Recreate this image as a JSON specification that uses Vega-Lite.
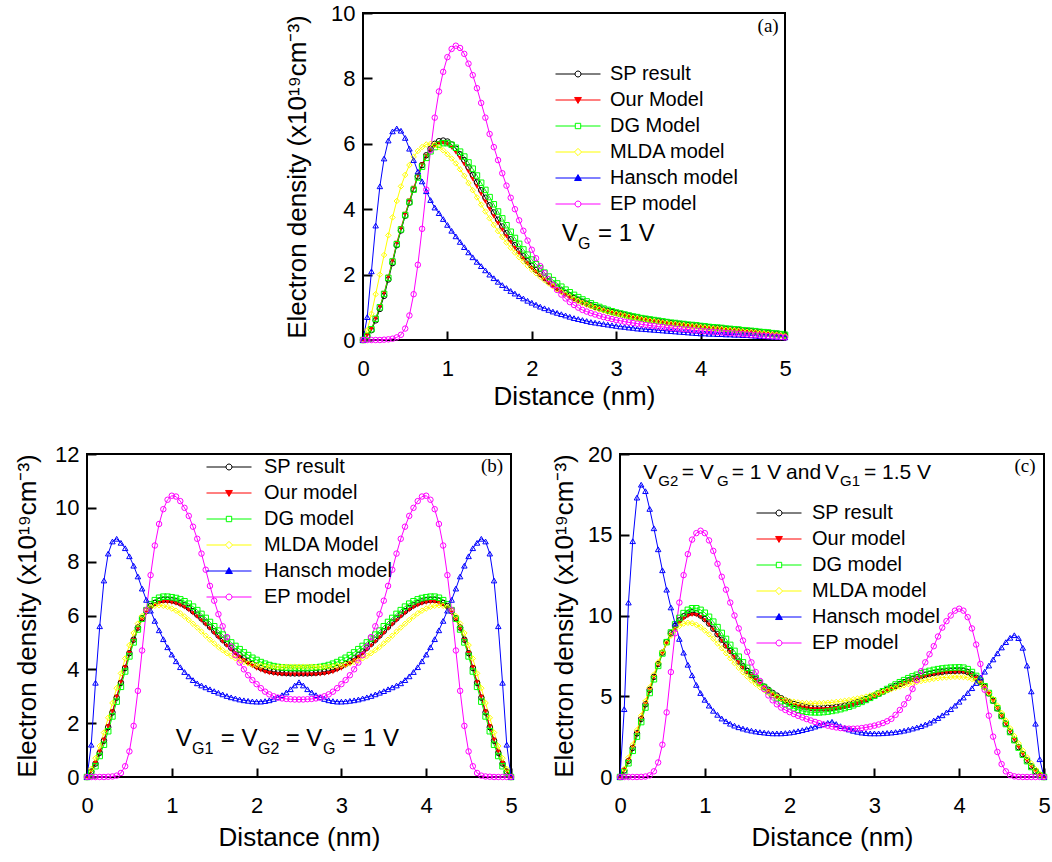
{
"$schema": "https://vega.github.io/schema/vega-lite/v6.json",
"background": "white",
"padding": {"left": 13, "top": 1, "right": 0, "bottom": 0},
"config": {
  "font": "Liberation Sans",
  "view": {"stroke": "black", "strokeWidth": 2},
  "axis": {"domain": false, "grid": false, "ticks": true, "tickSize": 9, "offset": -9, "tickWidth": 2, "tickColor": "black", "labelFont": "Liberation Sans", "labelFontSize": 22, "labelColor": "black", "labelFlush": false, "labelOverlap": false, "titleFont": "Liberation Sans", "titleFontSize": 26, "titleFontWeight": "normal", "titleColor": "black"},
  "axisX": {"labelPadding": 18, "titlePadding": 4},
  "axisY": {"labelPadding": 8, "titlePadding": 12},
  "legend": {"labelLimit": 0}
},
"datasets": {
"a": [
{"x":0,"SP":0,"Our":0,"DG":0,"MLDA":0,"Hansch":0,"EP":0},
{"x":0.05,"SP":0.12,"Our":0.14,"DG":0.13,"MLDA":0.3,"Hansch":0.7,"EP":0},
{"x":0.1,"SP":0.3,"Our":0.34,"DG":0.33,"MLDA":0.8,"Hansch":2.1,"EP":0},
{"x":0.15,"SP":0.6,"Our":0.66,"DG":0.65,"MLDA":1.4,"Hansch":3.5,"EP":0},
{"x":0.2,"SP":0.95,"Our":1.02,"DG":1.0,"MLDA":2.0,"Hansch":4.7,"EP":0},
{"x":0.25,"SP":1.35,"Our":1.43,"DG":1.41,"MLDA":2.6,"Hansch":5.55,"EP":0.01},
{"x":0.3,"SP":1.85,"Our":1.93,"DG":1.9,"MLDA":3.2,"Hansch":6.1,"EP":0.02},
{"x":0.35,"SP":2.35,"Our":2.43,"DG":2.4,"MLDA":3.75,"Hansch":6.38,"EP":0.04},
{"x":0.4,"SP":2.9,"Our":2.97,"DG":2.93,"MLDA":4.25,"Hansch":6.47,"EP":0.08},
{"x":0.45,"SP":3.35,"Our":3.42,"DG":3.38,"MLDA":4.7,"Hansch":6.4,"EP":0.16},
{"x":0.5,"SP":3.8,"Our":3.86,"DG":3.82,"MLDA":5.05,"Hansch":6.18,"EP":0.35},
{"x":0.55,"SP":4.2,"Our":4.26,"DG":4.22,"MLDA":5.35,"Hansch":5.85,"EP":0.75},
{"x":0.6,"SP":4.6,"Our":4.65,"DG":4.6,"MLDA":5.6,"Hansch":5.5,"EP":1.4},
{"x":0.65,"SP":5.0,"Our":5.03,"DG":4.97,"MLDA":5.78,"Hansch":5.15,"EP":2.3},
{"x":0.7,"SP":5.35,"Our":5.36,"DG":5.3,"MLDA":5.9,"Hansch":4.85,"EP":3.4},
{"x":0.75,"SP":5.65,"Our":5.63,"DG":5.57,"MLDA":5.98,"Hansch":4.55,"EP":4.6},
{"x":0.8,"SP":5.85,"Our":5.82,"DG":5.77,"MLDA":6.0,"Hansch":4.28,"EP":5.8},
{"x":0.85,"SP":6.0,"Our":5.95,"DG":5.9,"MLDA":5.97,"Hansch":4.05,"EP":6.8},
{"x":0.9,"SP":6.08,"Our":6.02,"DG":5.98,"MLDA":5.9,"Hansch":3.88,"EP":7.6},
{"x":0.95,"SP":6.1,"Our":6.03,"DG":6.02,"MLDA":5.8,"Hansch":3.7,"EP":8.2},
{"x":1.0,"SP":6.07,"Our":5.98,"DG":6.02,"MLDA":5.68,"Hansch":3.52,"EP":8.65},
{"x":1.05,"SP":5.98,"Our":5.88,"DG":5.97,"MLDA":5.55,"Hansch":3.34,"EP":8.9},
{"x":1.1,"SP":5.85,"Our":5.74,"DG":5.88,"MLDA":5.4,"Hansch":3.17,"EP":9.0},
{"x":1.15,"SP":5.68,"Our":5.56,"DG":5.76,"MLDA":5.22,"Hansch":3.0,"EP":8.93},
{"x":1.2,"SP":5.5,"Our":5.37,"DG":5.61,"MLDA":5.02,"Hansch":2.84,"EP":8.75},
{"x":1.25,"SP":5.28,"Our":5.15,"DG":5.43,"MLDA":4.8,"Hansch":2.68,"EP":8.45},
{"x":1.3,"SP":5.05,"Our":4.92,"DG":5.24,"MLDA":4.58,"Hansch":2.53,"EP":8.1},
{"x":1.35,"SP":4.82,"Our":4.69,"DG":5.03,"MLDA":4.36,"Hansch":2.39,"EP":7.7},
{"x":1.4,"SP":4.58,"Our":4.46,"DG":4.81,"MLDA":4.14,"Hansch":2.26,"EP":7.25},
{"x":1.45,"SP":4.35,"Our":4.23,"DG":4.59,"MLDA":3.93,"Hansch":2.13,"EP":6.8},
{"x":1.5,"SP":4.12,"Our":4.0,"DG":4.37,"MLDA":3.72,"Hansch":2.0,"EP":6.3},
{"x":1.55,"SP":3.9,"Our":3.78,"DG":4.15,"MLDA":3.52,"Hansch":1.89,"EP":5.9},
{"x":1.6,"SP":3.68,"Our":3.57,"DG":3.93,"MLDA":3.33,"Hansch":1.78,"EP":5.5},
{"x":1.65,"SP":3.47,"Our":3.37,"DG":3.72,"MLDA":3.15,"Hansch":1.68,"EP":5.1},
{"x":1.7,"SP":3.27,"Our":3.17,"DG":3.51,"MLDA":2.98,"Hansch":1.59,"EP":4.72},
{"x":1.75,"SP":3.08,"Our":2.99,"DG":3.31,"MLDA":2.82,"Hansch":1.5,"EP":4.35},
{"x":1.8,"SP":2.9,"Our":2.81,"DG":3.12,"MLDA":2.67,"Hansch":1.42,"EP":4.0},
{"x":1.85,"SP":2.73,"Our":2.65,"DG":2.94,"MLDA":2.53,"Hansch":1.34,"EP":3.66},
{"x":1.9,"SP":2.56,"Our":2.49,"DG":2.77,"MLDA":2.4,"Hansch":1.27,"EP":3.34},
{"x":1.95,"SP":2.41,"Our":2.34,"DG":2.61,"MLDA":2.27,"Hansch":1.2,"EP":3.04},
{"x":2.0,"SP":2.27,"Our":2.2,"DG":2.46,"MLDA":2.15,"Hansch":1.14,"EP":2.76},
{"x":2.05,"SP":2.14,"Our":2.08,"DG":2.32,"MLDA":2.04,"Hansch":1.08,"EP":2.5},
{"x":2.1,"SP":2.02,"Our":1.96,"DG":2.19,"MLDA":1.93,"Hansch":1.02,"EP":2.26},
{"x":2.15,"SP":1.9,"Our":1.85,"DG":2.06,"MLDA":1.83,"Hansch":0.97,"EP":2.05},
{"x":2.2,"SP":1.79,"Our":1.74,"DG":1.94,"MLDA":1.73,"Hansch":0.92,"EP":1.86},
{"x":2.25,"SP":1.69,"Our":1.64,"DG":1.83,"MLDA":1.64,"Hansch":0.87,"EP":1.68},
{"x":2.3,"SP":1.6,"Our":1.55,"DG":1.73,"MLDA":1.55,"Hansch":0.83,"EP":1.53},
{"x":2.35,"SP":1.51,"Our":1.47,"DG":1.63,"MLDA":1.47,"Hansch":0.79,"EP":1.39},
{"x":2.4,"SP":1.43,"Our":1.39,"DG":1.54,"MLDA":1.39,"Hansch":0.75,"EP":1.27},
{"x":2.45,"SP":1.36,"Our":1.32,"DG":1.46,"MLDA":1.32,"Hansch":0.71,"EP":1.16},
{"x":2.5,"SP":1.29,"Our":1.26,"DG":1.38,"MLDA":1.25,"Hansch":0.67,"EP":1.07},
{"x":2.55,"SP":1.23,"Our":1.2,"DG":1.31,"MLDA":1.19,"Hansch":0.64,"EP":0.99},
{"x":2.6,"SP":1.17,"Our":1.14,"DG":1.24,"MLDA":1.13,"Hansch":0.61,"EP":0.92},
{"x":2.65,"SP":1.11,"Our":1.09,"DG":1.18,"MLDA":1.08,"Hansch":0.58,"EP":0.87},
{"x":2.7,"SP":1.06,"Our":1.04,"DG":1.12,"MLDA":1.03,"Hansch":0.55,"EP":0.82},
{"x":2.75,"SP":1.01,"Our":0.99,"DG":1.06,"MLDA":0.98,"Hansch":0.53,"EP":0.78},
{"x":2.8,"SP":0.97,"Our":0.95,"DG":1.01,"MLDA":0.94,"Hansch":0.51,"EP":0.74},
{"x":2.85,"SP":0.93,"Our":0.91,"DG":0.96,"MLDA":0.9,"Hansch":0.49,"EP":0.7},
{"x":2.9,"SP":0.89,"Our":0.87,"DG":0.92,"MLDA":0.86,"Hansch":0.47,"EP":0.67},
{"x":2.95,"SP":0.86,"Our":0.84,"DG":0.88,"MLDA":0.83,"Hansch":0.45,"EP":0.64},
{"x":3.0,"SP":0.83,"Our":0.81,"DG":0.84,"MLDA":0.8,"Hansch":0.43,"EP":0.61},
{"x":3.05,"SP":0.8,"Our":0.78,"DG":0.81,"MLDA":0.77,"Hansch":0.41,"EP":0.59},
{"x":3.1,"SP":0.77,"Our":0.75,"DG":0.78,"MLDA":0.74,"Hansch":0.4,"EP":0.56},
{"x":3.15,"SP":0.74,"Our":0.72,"DG":0.75,"MLDA":0.71,"Hansch":0.38,"EP":0.54},
{"x":3.2,"SP":0.71,"Our":0.69,"DG":0.72,"MLDA":0.68,"Hansch":0.37,"EP":0.52},
{"x":3.25,"SP":0.69,"Our":0.67,"DG":0.7,"MLDA":0.66,"Hansch":0.35,"EP":0.5},
{"x":3.3,"SP":0.66,"Our":0.64,"DG":0.67,"MLDA":0.63,"Hansch":0.34,"EP":0.48},
{"x":3.35,"SP":0.64,"Our":0.62,"DG":0.65,"MLDA":0.61,"Hansch":0.33,"EP":0.46},
{"x":3.4,"SP":0.62,"Our":0.6,"DG":0.63,"MLDA":0.59,"Hansch":0.32,"EP":0.44},
{"x":3.45,"SP":0.6,"Our":0.58,"DG":0.61,"MLDA":0.57,"Hansch":0.31,"EP":0.43},
{"x":3.5,"SP":0.58,"Our":0.56,"DG":0.59,"MLDA":0.55,"Hansch":0.3,"EP":0.41},
{"x":3.55,"SP":0.56,"Our":0.54,"DG":0.57,"MLDA":0.53,"Hansch":0.29,"EP":0.4},
{"x":3.6,"SP":0.54,"Our":0.52,"DG":0.55,"MLDA":0.51,"Hansch":0.28,"EP":0.38},
{"x":3.65,"SP":0.52,"Our":0.5,"DG":0.53,"MLDA":0.49,"Hansch":0.27,"EP":0.37},
{"x":3.7,"SP":0.51,"Our":0.49,"DG":0.52,"MLDA":0.48,"Hansch":0.26,"EP":0.35},
{"x":3.75,"SP":0.49,"Our":0.47,"DG":0.5,"MLDA":0.46,"Hansch":0.25,"EP":0.34},
{"x":3.8,"SP":0.48,"Our":0.46,"DG":0.49,"MLDA":0.45,"Hansch":0.24,"EP":0.33},
{"x":3.85,"SP":0.46,"Our":0.44,"DG":0.47,"MLDA":0.43,"Hansch":0.23,"EP":0.32},
{"x":3.9,"SP":0.45,"Our":0.43,"DG":0.46,"MLDA":0.42,"Hansch":0.22,"EP":0.3},
{"x":3.95,"SP":0.44,"Our":0.42,"DG":0.45,"MLDA":0.41,"Hansch":0.21,"EP":0.29},
{"x":4.0,"SP":0.42,"Our":0.4,"DG":0.43,"MLDA":0.39,"Hansch":0.2,"EP":0.28},
{"x":4.05,"SP":0.41,"Our":0.39,"DG":0.42,"MLDA":0.38,"Hansch":0.2,"EP":0.27},
{"x":4.1,"SP":0.39,"Our":0.37,"DG":0.4,"MLDA":0.36,"Hansch":0.19,"EP":0.26},
{"x":4.15,"SP":0.38,"Our":0.36,"DG":0.39,"MLDA":0.35,"Hansch":0.19,"EP":0.25},
{"x":4.2,"SP":0.37,"Our":0.35,"DG":0.38,"MLDA":0.34,"Hansch":0.18,"EP":0.24},
{"x":4.25,"SP":0.36,"Our":0.34,"DG":0.37,"MLDA":0.33,"Hansch":0.18,"EP":0.23},
{"x":4.3,"SP":0.34,"Our":0.32,"DG":0.35,"MLDA":0.31,"Hansch":0.17,"EP":0.22},
{"x":4.35,"SP":0.33,"Our":0.31,"DG":0.34,"MLDA":0.3,"Hansch":0.17,"EP":0.21},
{"x":4.4,"SP":0.32,"Our":0.3,"DG":0.33,"MLDA":0.29,"Hansch":0.16,"EP":0.2},
{"x":4.45,"SP":0.31,"Our":0.29,"DG":0.32,"MLDA":0.28,"Hansch":0.16,"EP":0.19},
{"x":4.5,"SP":0.29,"Our":0.27,"DG":0.3,"MLDA":0.26,"Hansch":0.15,"EP":0.18},
{"x":4.55,"SP":0.28,"Our":0.26,"DG":0.29,"MLDA":0.25,"Hansch":0.15,"EP":0.17},
{"x":4.6,"SP":0.27,"Our":0.25,"DG":0.28,"MLDA":0.24,"Hansch":0.14,"EP":0.16},
{"x":4.65,"SP":0.26,"Our":0.24,"DG":0.27,"MLDA":0.23,"Hansch":0.13,"EP":0.15},
{"x":4.7,"SP":0.24,"Our":0.22,"DG":0.25,"MLDA":0.21,"Hansch":0.12,"EP":0.14},
{"x":4.75,"SP":0.23,"Our":0.21,"DG":0.24,"MLDA":0.2,"Hansch":0.12,"EP":0.13},
{"x":4.8,"SP":0.22,"Our":0.2,"DG":0.23,"MLDA":0.19,"Hansch":0.11,"EP":0.12},
{"x":4.85,"SP":0.2,"Our":0.18,"DG":0.21,"MLDA":0.17,"Hansch":0.1,"EP":0.11},
{"x":4.9,"SP":0.19,"Our":0.17,"DG":0.2,"MLDA":0.16,"Hansch":0.1,"EP":0.1},
{"x":4.95,"SP":0.17,"Our":0.15,"DG":0.18,"MLDA":0.14,"Hansch":0.09,"EP":0.09},
{"x":5.0,"SP":0.15,"Our":0.13,"DG":0.16,"MLDA":0.12,"Hansch":0.08,"EP":0.08}
],
"b": [
{"x":0,"SP":0,"Our":0,"DG":0,"MLDA":0,"Hansch":0,"EP":0},
{"x":0.05,"SP":0.2,"Our":0.22,"DG":0.15,"MLDA":0.3,"Hansch":1.2,"EP":0},
{"x":0.1,"SP":0.5,"Our":0.52,"DG":0.4,"MLDA":0.7,"Hansch":3.5,"EP":0},
{"x":0.15,"SP":0.9,"Our":0.93,"DG":0.78,"MLDA":1.15,"Hansch":5.6,"EP":0},
{"x":0.2,"SP":1.35,"Our":1.38,"DG":1.2,"MLDA":1.65,"Hansch":7.3,"EP":0},
{"x":0.25,"SP":1.85,"Our":1.88,"DG":1.7,"MLDA":2.2,"Hansch":8.3,"EP":0.01},
{"x":0.3,"SP":2.4,"Our":2.43,"DG":2.25,"MLDA":2.75,"Hansch":8.75,"EP":0.02},
{"x":0.35,"SP":2.95,"Our":2.98,"DG":2.8,"MLDA":3.3,"Hansch":8.85,"EP":0.05},
{"x":0.4,"SP":3.5,"Our":3.52,"DG":3.35,"MLDA":3.85,"Hansch":8.7,"EP":0.15},
{"x":0.45,"SP":4.05,"Our":4.07,"DG":3.92,"MLDA":4.4,"Hansch":8.5,"EP":0.4},
{"x":0.5,"SP":4.6,"Our":4.6,"DG":4.48,"MLDA":4.9,"Hansch":8.2,"EP":0.95},
{"x":0.55,"SP":5.1,"Our":5.08,"DG":5.0,"MLDA":5.35,"Hansch":7.85,"EP":1.9},
{"x":0.6,"SP":5.55,"Our":5.5,"DG":5.48,"MLDA":5.7,"Hansch":7.45,"EP":3.2},
{"x":0.65,"SP":5.9,"Our":5.85,"DG":5.88,"MLDA":5.98,"Hansch":7.0,"EP":4.7},
{"x":0.7,"SP":6.17,"Our":6.1,"DG":6.2,"MLDA":6.18,"Hansch":6.58,"EP":6.2},
{"x":0.75,"SP":6.35,"Our":6.28,"DG":6.42,"MLDA":6.3,"Hansch":6.18,"EP":7.5},
{"x":0.8,"SP":6.47,"Our":6.4,"DG":6.57,"MLDA":6.36,"Hansch":5.8,"EP":8.6},
{"x":0.85,"SP":6.55,"Our":6.47,"DG":6.66,"MLDA":6.38,"Hansch":5.45,"EP":9.4},
{"x":0.9,"SP":6.58,"Our":6.5,"DG":6.7,"MLDA":6.36,"Hansch":5.12,"EP":9.95},
{"x":0.95,"SP":6.58,"Our":6.5,"DG":6.7,"MLDA":6.32,"Hansch":4.82,"EP":10.3},
{"x":1.0,"SP":6.56,"Our":6.48,"DG":6.68,"MLDA":6.26,"Hansch":4.55,"EP":10.45},
{"x":1.05,"SP":6.52,"Our":6.44,"DG":6.65,"MLDA":6.18,"Hansch":4.3,"EP":10.42},
{"x":1.1,"SP":6.46,"Our":6.38,"DG":6.6,"MLDA":6.08,"Hansch":4.08,"EP":10.25},
{"x":1.15,"SP":6.38,"Our":6.3,"DG":6.53,"MLDA":5.96,"Hansch":3.9,"EP":10.0},
{"x":1.2,"SP":6.28,"Our":6.2,"DG":6.44,"MLDA":5.83,"Hansch":3.74,"EP":9.7},
{"x":1.25,"SP":6.16,"Our":6.08,"DG":6.33,"MLDA":5.69,"Hansch":3.6,"EP":9.3},
{"x":1.3,"SP":6.03,"Our":5.95,"DG":6.2,"MLDA":5.55,"Hansch":3.48,"EP":8.85},
{"x":1.35,"SP":5.89,"Our":5.81,"DG":6.06,"MLDA":5.4,"Hansch":3.4,"EP":8.3},
{"x":1.4,"SP":5.74,"Our":5.66,"DG":5.91,"MLDA":5.25,"Hansch":3.33,"EP":7.7},
{"x":1.45,"SP":5.58,"Our":5.5,"DG":5.76,"MLDA":5.1,"Hansch":3.26,"EP":7.1},
{"x":1.5,"SP":5.42,"Our":5.34,"DG":5.6,"MLDA":4.96,"Hansch":3.19,"EP":6.55},
{"x":1.55,"SP":5.26,"Our":5.18,"DG":5.44,"MLDA":4.83,"Hansch":3.13,"EP":6.05},
{"x":1.6,"SP":5.1,"Our":5.02,"DG":5.29,"MLDA":4.71,"Hansch":3.07,"EP":5.6},
{"x":1.65,"SP":4.95,"Our":4.87,"DG":5.14,"MLDA":4.6,"Hansch":3.01,"EP":5.2},
{"x":1.7,"SP":4.8,"Our":4.72,"DG":5.0,"MLDA":4.5,"Hansch":2.96,"EP":4.85},
{"x":1.75,"SP":4.66,"Our":4.58,"DG":4.87,"MLDA":4.41,"Hansch":2.92,"EP":4.53},
{"x":1.8,"SP":4.53,"Our":4.45,"DG":4.75,"MLDA":4.33,"Hansch":2.88,"EP":4.25},
{"x":1.85,"SP":4.41,"Our":4.33,"DG":4.63,"MLDA":4.27,"Hansch":2.85,"EP":4.0},
{"x":1.9,"SP":4.3,"Our":4.22,"DG":4.53,"MLDA":4.22,"Hansch":2.83,"EP":3.78},
{"x":1.95,"SP":4.2,"Our":4.12,"DG":4.43,"MLDA":4.18,"Hansch":2.81,"EP":3.6},
{"x":2.0,"SP":4.12,"Our":4.03,"DG":4.35,"MLDA":4.15,"Hansch":2.8,"EP":3.45},
{"x":2.05,"SP":4.05,"Our":3.96,"DG":4.27,"MLDA":4.13,"Hansch":2.8,"EP":3.3},
{"x":2.1,"SP":3.99,"Our":3.9,"DG":4.21,"MLDA":4.11,"Hansch":2.82,"EP":3.17},
{"x":2.15,"SP":3.94,"Our":3.86,"DG":4.16,"MLDA":4.1,"Hansch":2.85,"EP":3.07},
{"x":2.2,"SP":3.91,"Our":3.83,"DG":4.12,"MLDA":4.09,"Hansch":2.9,"EP":3.0},
{"x":2.25,"SP":3.89,"Our":3.81,"DG":4.09,"MLDA":4.09,"Hansch":2.96,"EP":2.95},
{"x":2.3,"SP":3.87,"Our":3.8,"DG":4.07,"MLDA":4.09,"Hansch":3.04,"EP":2.92},
{"x":2.35,"SP":3.86,"Our":3.8,"DG":4.06,"MLDA":4.1,"Hansch":3.14,"EP":2.9},
{"x":2.4,"SP":3.85,"Our":3.8,"DG":4.05,"MLDA":4.1,"Hansch":3.26,"EP":2.89},
{"x":2.45,"SP":3.85,"Our":3.8,"DG":4.05,"MLDA":4.1,"Hansch":3.4,"EP":2.88},
{"x":2.5,"SP":3.85,"Our":3.8,"DG":4.05,"MLDA":4.1,"Hansch":3.52,"EP":2.88},
{"x":2.55,"SP":3.85,"Our":3.8,"DG":4.05,"MLDA":4.1,"Hansch":3.4,"EP":2.88},
{"x":2.6,"SP":3.85,"Our":3.8,"DG":4.05,"MLDA":4.1,"Hansch":3.26,"EP":2.89},
{"x":2.65,"SP":3.86,"Our":3.8,"DG":4.06,"MLDA":4.1,"Hansch":3.14,"EP":2.9},
{"x":2.7,"SP":3.87,"Our":3.8,"DG":4.07,"MLDA":4.09,"Hansch":3.04,"EP":2.92},
{"x":2.75,"SP":3.89,"Our":3.81,"DG":4.09,"MLDA":4.09,"Hansch":2.96,"EP":2.95},
{"x":2.8,"SP":3.91,"Our":3.83,"DG":4.12,"MLDA":4.09,"Hansch":2.9,"EP":3.0},
{"x":2.85,"SP":3.94,"Our":3.86,"DG":4.16,"MLDA":4.1,"Hansch":2.85,"EP":3.07},
{"x":2.9,"SP":3.99,"Our":3.9,"DG":4.21,"MLDA":4.11,"Hansch":2.82,"EP":3.17},
{"x":2.95,"SP":4.05,"Our":3.96,"DG":4.27,"MLDA":4.13,"Hansch":2.8,"EP":3.3},
{"x":3.0,"SP":4.12,"Our":4.03,"DG":4.35,"MLDA":4.15,"Hansch":2.8,"EP":3.45},
{"x":3.05,"SP":4.2,"Our":4.12,"DG":4.43,"MLDA":4.18,"Hansch":2.81,"EP":3.6},
{"x":3.1,"SP":4.3,"Our":4.22,"DG":4.53,"MLDA":4.22,"Hansch":2.83,"EP":3.78},
{"x":3.15,"SP":4.41,"Our":4.33,"DG":4.63,"MLDA":4.27,"Hansch":2.85,"EP":4.0},
{"x":3.2,"SP":4.53,"Our":4.45,"DG":4.75,"MLDA":4.33,"Hansch":2.88,"EP":4.25},
{"x":3.25,"SP":4.66,"Our":4.58,"DG":4.87,"MLDA":4.41,"Hansch":2.92,"EP":4.53},
{"x":3.3,"SP":4.8,"Our":4.72,"DG":5.0,"MLDA":4.5,"Hansch":2.96,"EP":4.85},
{"x":3.35,"SP":4.95,"Our":4.87,"DG":5.14,"MLDA":4.6,"Hansch":3.01,"EP":5.2},
{"x":3.4,"SP":5.1,"Our":5.02,"DG":5.29,"MLDA":4.71,"Hansch":3.07,"EP":5.6},
{"x":3.45,"SP":5.26,"Our":5.18,"DG":5.44,"MLDA":4.83,"Hansch":3.13,"EP":6.05},
{"x":3.5,"SP":5.42,"Our":5.34,"DG":5.6,"MLDA":4.96,"Hansch":3.19,"EP":6.55},
{"x":3.55,"SP":5.58,"Our":5.5,"DG":5.76,"MLDA":5.1,"Hansch":3.26,"EP":7.1},
{"x":3.6,"SP":5.74,"Our":5.66,"DG":5.91,"MLDA":5.25,"Hansch":3.33,"EP":7.7},
{"x":3.65,"SP":5.89,"Our":5.81,"DG":6.06,"MLDA":5.4,"Hansch":3.4,"EP":8.3},
{"x":3.7,"SP":6.03,"Our":5.95,"DG":6.2,"MLDA":5.55,"Hansch":3.48,"EP":8.85},
{"x":3.75,"SP":6.16,"Our":6.08,"DG":6.33,"MLDA":5.69,"Hansch":3.6,"EP":9.3},
{"x":3.8,"SP":6.28,"Our":6.2,"DG":6.44,"MLDA":5.83,"Hansch":3.74,"EP":9.7},
{"x":3.85,"SP":6.38,"Our":6.3,"DG":6.53,"MLDA":5.96,"Hansch":3.9,"EP":10.0},
{"x":3.9,"SP":6.46,"Our":6.38,"DG":6.6,"MLDA":6.08,"Hansch":4.08,"EP":10.25},
{"x":3.95,"SP":6.52,"Our":6.44,"DG":6.65,"MLDA":6.18,"Hansch":4.3,"EP":10.42},
{"x":4.0,"SP":6.56,"Our":6.48,"DG":6.68,"MLDA":6.26,"Hansch":4.55,"EP":10.45},
{"x":4.05,"SP":6.58,"Our":6.5,"DG":6.7,"MLDA":6.32,"Hansch":4.82,"EP":10.3},
{"x":4.1,"SP":6.58,"Our":6.5,"DG":6.7,"MLDA":6.36,"Hansch":5.12,"EP":9.95},
{"x":4.15,"SP":6.55,"Our":6.47,"DG":6.66,"MLDA":6.38,"Hansch":5.45,"EP":9.4},
{"x":4.2,"SP":6.47,"Our":6.4,"DG":6.57,"MLDA":6.36,"Hansch":5.8,"EP":8.6},
{"x":4.25,"SP":6.35,"Our":6.28,"DG":6.42,"MLDA":6.3,"Hansch":6.18,"EP":7.5},
{"x":4.3,"SP":6.17,"Our":6.1,"DG":6.2,"MLDA":6.18,"Hansch":6.58,"EP":6.2},
{"x":4.35,"SP":5.9,"Our":5.85,"DG":5.88,"MLDA":5.98,"Hansch":7.0,"EP":4.7},
{"x":4.4,"SP":5.55,"Our":5.5,"DG":5.48,"MLDA":5.7,"Hansch":7.45,"EP":3.2},
{"x":4.45,"SP":5.1,"Our":5.08,"DG":5.0,"MLDA":5.35,"Hansch":7.85,"EP":1.9},
{"x":4.5,"SP":4.6,"Our":4.6,"DG":4.48,"MLDA":4.9,"Hansch":8.2,"EP":0.95},
{"x":4.55,"SP":4.05,"Our":4.07,"DG":3.92,"MLDA":4.4,"Hansch":8.5,"EP":0.4},
{"x":4.6,"SP":3.5,"Our":3.52,"DG":3.35,"MLDA":3.85,"Hansch":8.7,"EP":0.15},
{"x":4.65,"SP":2.95,"Our":2.98,"DG":2.8,"MLDA":3.3,"Hansch":8.85,"EP":0.05},
{"x":4.7,"SP":2.4,"Our":2.43,"DG":2.25,"MLDA":2.75,"Hansch":8.75,"EP":0.02},
{"x":4.75,"SP":1.85,"Our":1.88,"DG":1.7,"MLDA":2.2,"Hansch":8.3,"EP":0.01},
{"x":4.8,"SP":1.35,"Our":1.38,"DG":1.2,"MLDA":1.65,"Hansch":7.3,"EP":0},
{"x":4.85,"SP":0.9,"Our":0.93,"DG":0.78,"MLDA":1.15,"Hansch":5.6,"EP":0},
{"x":4.9,"SP":0.5,"Our":0.52,"DG":0.4,"MLDA":0.7,"Hansch":3.5,"EP":0},
{"x":4.95,"SP":0.2,"Our":0.22,"DG":0.15,"MLDA":0.3,"Hansch":1.2,"EP":0},
{"x":5.0,"SP":0,"Our":0,"DG":0,"MLDA":0,"Hansch":0,"EP":0}
],
"c": [
{"x":0,"SP":0,"Our":0,"DG":0,"MLDA":0,"Hansch":0,"EP":0},
{"x":0.05,"SP":0.4,"Our":0.42,"DG":0.3,"MLDA":0.5,"Hansch":4.2,"EP":0},
{"x":0.1,"SP":1.0,"Our":1.02,"DG":0.85,"MLDA":1.2,"Hansch":10.8,"EP":0},
{"x":0.15,"SP":1.8,"Our":1.82,"DG":1.62,"MLDA":2.0,"Hansch":14.6,"EP":0},
{"x":0.2,"SP":2.7,"Our":2.72,"DG":2.5,"MLDA":2.9,"Hansch":17.3,"EP":0},
{"x":0.25,"SP":3.6,"Our":3.62,"DG":3.4,"MLDA":3.8,"Hansch":18.1,"EP":0.01},
{"x":0.3,"SP":4.5,"Our":4.5,"DG":4.3,"MLDA":4.7,"Hansch":17.7,"EP":0.03},
{"x":0.35,"SP":5.4,"Our":5.38,"DG":5.2,"MLDA":5.55,"Hansch":16.6,"EP":0.1},
{"x":0.4,"SP":6.2,"Our":6.17,"DG":6.05,"MLDA":6.35,"Hansch":15.4,"EP":0.35},
{"x":0.45,"SP":7.0,"Our":6.95,"DG":6.88,"MLDA":7.1,"Hansch":14.1,"EP":0.9},
{"x":0.5,"SP":7.7,"Our":7.63,"DG":7.65,"MLDA":7.75,"Hansch":12.8,"EP":2.0},
{"x":0.55,"SP":8.35,"Our":8.27,"DG":8.35,"MLDA":8.3,"Hansch":11.6,"EP":4.0},
{"x":0.6,"SP":8.9,"Our":8.8,"DG":8.95,"MLDA":8.75,"Hansch":10.5,"EP":6.5},
{"x":0.65,"SP":9.35,"Our":9.23,"DG":9.45,"MLDA":9.1,"Hansch":9.5,"EP":8.9},
{"x":0.7,"SP":9.7,"Our":9.56,"DG":9.85,"MLDA":9.35,"Hansch":8.55,"EP":10.8},
{"x":0.75,"SP":9.95,"Our":9.8,"DG":10.15,"MLDA":9.5,"Hansch":7.7,"EP":12.5},
{"x":0.8,"SP":10.12,"Our":9.96,"DG":10.35,"MLDA":9.55,"Hansch":6.95,"EP":13.8},
{"x":0.85,"SP":10.2,"Our":10.04,"DG":10.45,"MLDA":9.52,"Hansch":6.3,"EP":14.7},
{"x":0.9,"SP":10.15,"Our":10.02,"DG":10.45,"MLDA":9.42,"Hansch":5.7,"EP":15.1},
{"x":0.95,"SP":10.0,"Our":9.9,"DG":10.35,"MLDA":9.27,"Hansch":5.2,"EP":15.25},
{"x":1.0,"SP":9.78,"Our":9.7,"DG":10.17,"MLDA":9.07,"Hansch":4.78,"EP":15.1},
{"x":1.05,"SP":9.5,"Our":9.43,"DG":9.92,"MLDA":8.83,"Hansch":4.42,"EP":14.65},
{"x":1.1,"SP":9.18,"Our":9.12,"DG":9.62,"MLDA":8.56,"Hansch":4.1,"EP":14.0},
{"x":1.15,"SP":8.84,"Our":8.78,"DG":9.28,"MLDA":8.27,"Hansch":3.85,"EP":13.2},
{"x":1.2,"SP":8.5,"Our":8.43,"DG":8.92,"MLDA":7.97,"Hansch":3.62,"EP":12.4},
{"x":1.25,"SP":8.15,"Our":8.08,"DG":8.55,"MLDA":7.66,"Hansch":3.45,"EP":11.6},
{"x":1.3,"SP":7.8,"Our":7.73,"DG":8.18,"MLDA":7.35,"Hansch":3.3,"EP":10.8},
{"x":1.35,"SP":7.47,"Our":7.4,"DG":7.81,"MLDA":7.05,"Hansch":3.18,"EP":10.0},
{"x":1.4,"SP":7.15,"Our":7.08,"DG":7.45,"MLDA":6.76,"Hansch":3.08,"EP":9.2},
{"x":1.45,"SP":6.85,"Our":6.78,"DG":7.1,"MLDA":6.48,"Hansch":3.0,"EP":8.45},
{"x":1.5,"SP":6.57,"Our":6.5,"DG":6.76,"MLDA":6.22,"Hansch":2.93,"EP":7.75},
{"x":1.55,"SP":6.3,"Our":6.23,"DG":6.44,"MLDA":5.98,"Hansch":2.87,"EP":7.1},
{"x":1.6,"SP":6.05,"Our":5.98,"DG":6.13,"MLDA":5.76,"Hansch":2.82,"EP":6.5},
{"x":1.65,"SP":5.82,"Our":5.75,"DG":5.84,"MLDA":5.56,"Hansch":2.78,"EP":5.95},
{"x":1.7,"SP":5.6,"Our":5.53,"DG":5.57,"MLDA":5.38,"Hansch":2.75,"EP":5.45},
{"x":1.75,"SP":5.4,"Our":5.33,"DG":5.32,"MLDA":5.22,"Hansch":2.72,"EP":5.05},
{"x":1.8,"SP":5.21,"Our":5.14,"DG":5.09,"MLDA":5.08,"Hansch":2.7,"EP":4.75},
{"x":1.85,"SP":5.04,"Our":4.97,"DG":4.88,"MLDA":4.96,"Hansch":2.7,"EP":4.5},
{"x":1.9,"SP":4.88,"Our":4.81,"DG":4.69,"MLDA":4.86,"Hansch":2.7,"EP":4.3},
{"x":1.95,"SP":4.74,"Our":4.67,"DG":4.52,"MLDA":4.78,"Hansch":2.72,"EP":4.15},
{"x":2.0,"SP":4.62,"Our":4.55,"DG":4.38,"MLDA":4.71,"Hansch":2.75,"EP":4.02},
{"x":2.05,"SP":4.52,"Our":4.45,"DG":4.26,"MLDA":4.66,"Hansch":2.79,"EP":3.9},
{"x":2.1,"SP":4.44,"Our":4.37,"DG":4.16,"MLDA":4.62,"Hansch":2.84,"EP":3.79},
{"x":2.15,"SP":4.37,"Our":4.3,"DG":4.09,"MLDA":4.59,"Hansch":2.9,"EP":3.69},
{"x":2.2,"SP":4.32,"Our":4.25,"DG":4.04,"MLDA":4.57,"Hansch":2.97,"EP":3.59},
{"x":2.25,"SP":4.28,"Our":4.21,"DG":4.01,"MLDA":4.56,"Hansch":3.04,"EP":3.5},
{"x":2.3,"SP":4.26,"Our":4.19,"DG":4.0,"MLDA":4.56,"Hansch":3.12,"EP":3.41},
{"x":2.35,"SP":4.25,"Our":4.18,"DG":4.0,"MLDA":4.57,"Hansch":3.2,"EP":3.33},
{"x":2.4,"SP":4.26,"Our":4.19,"DG":4.02,"MLDA":4.58,"Hansch":3.28,"EP":3.25},
{"x":2.45,"SP":4.28,"Our":4.21,"DG":4.05,"MLDA":4.6,"Hansch":3.35,"EP":3.18},
{"x":2.5,"SP":4.3,"Our":4.23,"DG":4.09,"MLDA":4.62,"Hansch":3.42,"EP":3.12},
{"x":2.55,"SP":4.33,"Our":4.26,"DG":4.14,"MLDA":4.65,"Hansch":3.28,"EP":3.07},
{"x":2.6,"SP":4.37,"Our":4.3,"DG":4.2,"MLDA":4.68,"Hansch":3.15,"EP":3.03},
{"x":2.65,"SP":4.42,"Our":4.35,"DG":4.27,"MLDA":4.72,"Hansch":3.04,"EP":3.0},
{"x":2.7,"SP":4.48,"Our":4.41,"DG":4.35,"MLDA":4.76,"Hansch":2.94,"EP":2.99},
{"x":2.75,"SP":4.55,"Our":4.48,"DG":4.44,"MLDA":4.81,"Hansch":2.86,"EP":2.99},
{"x":2.8,"SP":4.63,"Our":4.56,"DG":4.54,"MLDA":4.86,"Hansch":2.8,"EP":3.0},
{"x":2.85,"SP":4.72,"Our":4.65,"DG":4.65,"MLDA":4.92,"Hansch":2.75,"EP":3.03},
{"x":2.9,"SP":4.82,"Our":4.75,"DG":4.77,"MLDA":4.98,"Hansch":2.72,"EP":3.07},
{"x":2.95,"SP":4.93,"Our":4.86,"DG":4.9,"MLDA":5.05,"Hansch":2.7,"EP":3.12},
{"x":3.0,"SP":5.04,"Our":4.97,"DG":5.03,"MLDA":5.12,"Hansch":2.7,"EP":3.18},
{"x":3.05,"SP":5.16,"Our":5.09,"DG":5.17,"MLDA":5.2,"Hansch":2.7,"EP":3.25},
{"x":3.1,"SP":5.28,"Our":5.21,"DG":5.31,"MLDA":5.28,"Hansch":2.71,"EP":3.34},
{"x":3.15,"SP":5.4,"Our":5.33,"DG":5.45,"MLDA":5.36,"Hansch":2.73,"EP":3.45},
{"x":3.2,"SP":5.52,"Our":5.45,"DG":5.59,"MLDA":5.44,"Hansch":2.75,"EP":3.6},
{"x":3.25,"SP":5.64,"Our":5.57,"DG":5.73,"MLDA":5.52,"Hansch":2.78,"EP":3.85},
{"x":3.3,"SP":5.76,"Our":5.69,"DG":5.87,"MLDA":5.6,"Hansch":2.82,"EP":4.15},
{"x":3.35,"SP":5.87,"Our":5.8,"DG":6.0,"MLDA":5.68,"Hansch":2.87,"EP":4.5},
{"x":3.4,"SP":5.98,"Our":5.91,"DG":6.12,"MLDA":5.75,"Hansch":2.93,"EP":4.9},
{"x":3.45,"SP":6.08,"Our":6.01,"DG":6.23,"MLDA":5.82,"Hansch":3.0,"EP":5.45},
{"x":3.5,"SP":6.17,"Our":6.1,"DG":6.33,"MLDA":5.88,"Hansch":3.07,"EP":6.0},
{"x":3.55,"SP":6.25,"Our":6.18,"DG":6.42,"MLDA":5.94,"Hansch":3.15,"EP":6.55},
{"x":3.6,"SP":6.32,"Our":6.25,"DG":6.5,"MLDA":5.99,"Hansch":3.25,"EP":7.1},
{"x":3.65,"SP":6.38,"Our":6.31,"DG":6.57,"MLDA":6.04,"Hansch":3.36,"EP":7.6},
{"x":3.7,"SP":6.43,"Our":6.36,"DG":6.63,"MLDA":6.08,"Hansch":3.5,"EP":8.1},
{"x":3.75,"SP":6.47,"Our":6.4,"DG":6.68,"MLDA":6.12,"Hansch":3.65,"EP":8.7},
{"x":3.8,"SP":6.51,"Our":6.44,"DG":6.72,"MLDA":6.15,"Hansch":3.82,"EP":9.25},
{"x":3.85,"SP":6.54,"Our":6.47,"DG":6.75,"MLDA":6.17,"Hansch":4.0,"EP":9.65},
{"x":3.9,"SP":6.56,"Our":6.49,"DG":6.77,"MLDA":6.19,"Hansch":4.2,"EP":10.0},
{"x":3.95,"SP":6.57,"Our":6.5,"DG":6.78,"MLDA":6.2,"Hansch":4.42,"EP":10.3},
{"x":4.0,"SP":6.58,"Our":6.51,"DG":6.79,"MLDA":6.2,"Hansch":4.66,"EP":10.42},
{"x":4.05,"SP":6.57,"Our":6.5,"DG":6.77,"MLDA":6.19,"Hansch":4.92,"EP":10.3},
{"x":4.1,"SP":6.5,"Our":6.44,"DG":6.68,"MLDA":6.15,"Hansch":5.2,"EP":9.9},
{"x":4.15,"SP":6.35,"Our":6.3,"DG":6.5,"MLDA":6.07,"Hansch":5.5,"EP":9.2},
{"x":4.2,"SP":6.15,"Our":6.1,"DG":6.26,"MLDA":5.95,"Hansch":5.82,"EP":8.2},
{"x":4.25,"SP":5.9,"Our":5.86,"DG":5.97,"MLDA":5.78,"Hansch":6.16,"EP":7.0},
{"x":4.3,"SP":5.58,"Our":5.55,"DG":5.62,"MLDA":5.54,"Hansch":6.52,"EP":5.4},
{"x":4.35,"SP":5.18,"Our":5.15,"DG":5.2,"MLDA":5.22,"Hansch":6.9,"EP":3.8},
{"x":4.4,"SP":4.72,"Our":4.7,"DG":4.74,"MLDA":4.84,"Hansch":7.28,"EP":2.5},
{"x":4.45,"SP":4.25,"Our":4.24,"DG":4.26,"MLDA":4.42,"Hansch":7.66,"EP":1.55},
{"x":4.5,"SP":3.78,"Our":3.77,"DG":3.78,"MLDA":3.97,"Hansch":8.02,"EP":0.8},
{"x":4.55,"SP":3.3,"Our":3.29,"DG":3.28,"MLDA":3.5,"Hansch":8.35,"EP":0.35},
{"x":4.6,"SP":2.8,"Our":2.8,"DG":2.78,"MLDA":3.02,"Hansch":8.62,"EP":0.12},
{"x":4.65,"SP":2.3,"Our":2.3,"DG":2.28,"MLDA":2.54,"Hansch":8.78,"EP":0.04},
{"x":4.7,"SP":1.85,"Our":1.85,"DG":1.82,"MLDA":2.08,"Hansch":8.6,"EP":0.01},
{"x":4.75,"SP":1.42,"Our":1.42,"DG":1.38,"MLDA":1.64,"Hansch":8.0,"EP":0},
{"x":4.8,"SP":1.02,"Our":1.02,"DG":0.98,"MLDA":1.22,"Hansch":6.9,"EP":0},
{"x":4.85,"SP":0.66,"Our":0.66,"DG":0.62,"MLDA":0.84,"Hansch":5.3,"EP":0},
{"x":4.9,"SP":0.36,"Our":0.36,"DG":0.33,"MLDA":0.48,"Hansch":3.3,"EP":0},
{"x":4.95,"SP":0.13,"Our":0.13,"DG":0.11,"MLDA":0.18,"Hansch":1.1,"EP":0},
{"x":5.0,"SP":0,"Our":0,"DG":0,"MLDA":0,"Hansch":0,"EP":0}
]
},
"spacing": 32,
"resolve": {"scale": {"stroke": "independent"}, "legend": {"stroke": "independent"}},
"vconcat": [
{
 "spacing": 0,
 "resolve": {"scale": {"stroke": "independent"}, "legend": {"stroke": "independent"}},
 "hconcat": [
  {"width": 196, "height": 10, "view": {"stroke": null}, "data": {"values": [{}]}, "mark": {"type": "rect", "opacity": 0}, "encoding": {}},
  {
  "width": 422, "height": 327,
  "layer": [
    {
      "data": {"name": "a"},
      "transform": [{"fold": ["SP","Our","DG","MLDA","Hansch","EP"], "as": ["k","v"]}],
      "encoding": {
        "x": {"field": "x", "type": "quantitative", "scale": {"domain": [0,5], "nice": false}, "axis": {"title": "Distance (nm)", "values": [0,1,2,3,4,5], "format": "d", "titlePadding": 4}},
        "y": {"field": "v", "type": "quantitative", "scale": {"domain": [0,10], "nice": false}, "axis": {"title": "Electron density (x10¹⁹cm⁻³)", "values": [0,2,4,6,8,10], "format": "d", "titlePadding": 20}}
      },
      "layer": [
        {"mark": {"type": "line", "strokeWidth": 1},
         "encoding": {"stroke": {"field": "k", "type": "nominal",
          "scale": {"domain": ["SP","Our","DG","MLDA","Hansch","EP"], "range": ["#000000","#ff0000","#00ff00","#ffff00","#0000ff","#ff00ff"]},
          "legend": {"title": null, "orient": "none", "direction": "vertical", "legendX": 205, "legendY": 51, "symbolSize": 324, "symbolStrokeWidth": 1, "labelFontSize": 20, "labelFont": "Liberation Sans", "labelColor": "black", "labelOffset": 22, "rowPadding": 6, "padding": 0,
            "labelExpr": "datum.value === 'SP' ? 'SP result' : datum.value === 'Our' ? 'Our Model' : datum.value === 'DG' ? 'DG Model' : datum.value === 'MLDA' ? 'MLDA model' : datum.value === 'Hansch' ? 'Hansch model' : 'EP model'",
            "encode": {"symbols": {"update": {
              "shape": {"signal": "datum.value === 'Our' ? 'M-2.5,0H2.5M-0.38,-0.28L0.38,-0.28L0,0.38Z' : datum.value === 'DG' ? 'M-2.5,0H-0.3M0.3,0H2.5M-0.3,-0.3H0.3V0.3H-0.3Z' : datum.value === 'MLDA' ? 'M-2.5,0H-0.4M0.4,0H2.5M0,-0.4L0.4,0L0,0.4L-0.4,0Z' : datum.value === 'Hansch' ? 'M-2.5,0H2.5M-0.38,0.28L0.38,0.28L0,-0.38Z' : 'M-2.5,0H-0.33M0.33,0H2.5M0.33,0A0.33,0.33,0,1,1,-0.33,0A0.33,0.33,0,1,1,0.33,0'"},
              "fill": {"signal": "datum.value === 'Our' ? '#ff0000' : datum.value === 'Hansch' ? '#0000ff' : 'white'"}
            }}}
          }}}},
        {"transform": [{"filter": "datum.k === 'SP'"}], "mark": {"type": "point", "shape": "circle", "filled": false, "color": "#000000", "size": 30, "strokeWidth": 1, "opacity": 1}},
        {"transform": [{"filter": "datum.k === 'Our'"}], "mark": {"type": "point", "shape": "triangle-down", "filled": true, "color": "#ff0000", "size": 24, "opacity": 1}},
        {"transform": [{"filter": "datum.k === 'DG'"}], "mark": {"type": "point", "shape": "square", "filled": false, "color": "#00ff00", "size": 30, "strokeWidth": 1, "opacity": 1}},
        {"transform": [{"filter": "datum.k === 'MLDA'"}], "mark": {"type": "point", "shape": "diamond", "filled": false, "color": "#ffff00", "size": 30, "strokeWidth": 1, "opacity": 1}},
        {"transform": [{"filter": "datum.k === 'Hansch'"}], "mark": {"type": "point", "shape": "triangle-up", "filled": false, "color": "#0000ff", "size": 30, "strokeWidth": 1, "opacity": 1}},
        {"transform": [{"filter": "datum.k === 'EP'"}], "mark": {"type": "point", "shape": "circle", "filled": false, "color": "#ff00ff", "size": 30, "strokeWidth": 1, "opacity": 1}}
      ]
    },
    {
      "data": {"values": [{"t": "V", "x": 2.354, "y": 3.03}, {"t": "= 1 V", "x": 2.785, "y": 3.03}]},
      "mark": {"type": "text", "align": "left", "baseline": "alphabetic", "fontSize": 24, "font": "Liberation Sans", "color": "black"},
      "encoding": {"x": {"field": "x", "type": "quantitative"}, "y": {"field": "y", "type": "quantitative"}, "text": {"field": "t"}}
    },
    {
      "data": {"values": [{"t": "G", "x": 2.547, "y": 2.78}]},
      "mark": {"type": "text", "align": "left", "baseline": "alphabetic", "fontSize": 16, "font": "Liberation Sans", "color": "black"},
      "encoding": {"x": {"field": "x", "type": "quantitative"}, "y": {"field": "y", "type": "quantitative"}, "text": {"field": "t"}}
    },
    {
      "data": {"values": [{"t": "(a)", "x": 4.8, "y": 9.6}]},
      "mark": {"type": "text", "align": "center", "baseline": "middle", "fontSize": 19, "font": "Liberation Serif", "color": "black"},
      "encoding": {"x": {"field": "x", "type": "quantitative"}, "y": {"field": "y", "type": "quantitative"}, "text": {"field": "t"}}
    }
  ]
  }
 ]
},
{
  "spacing": 31,
  "resolve": {"scale": {"stroke": "independent"}, "legend": {"stroke": "independent"}},
  "hconcat": [
    {
      "width": 424, "height": 323,
      "layer": [
        {
          "data": {"name": "b"},
          "transform": [{"fold": ["SP","Our","DG","MLDA","Hansch","EP"], "as": ["k","v"]}],
          "encoding": {
            "x": {"field": "x", "type": "quantitative", "scale": {"domain": [0,5], "nice": false}, "axis": {"title": "Distance (nm)", "values": [0,1,2,3,4,5], "format": "d", "titlePadding": 8}},
            "y": {"field": "v", "type": "quantitative", "scale": {"domain": [0,12], "nice": false}, "axis": {"title": "Electron density (x10¹⁹cm⁻³)", "values": [0,2,4,6,8,10,12], "format": "d", "titlePadding": 14}}
          },
          "layer": [
            {"mark": {"type": "line", "strokeWidth": 1},
             "encoding": {"stroke": {"field": "k", "type": "nominal",
              "scale": {"domain": ["SP","Our","DG","MLDA","Hansch","EP"], "range": ["#000000","#ff0000","#00ff00","#ffff00","#0000ff","#ff00ff"]},
              "legend": {"title": null, "orient": "none", "direction": "vertical", "legendX": 132, "legendY": 3, "symbolSize": 324, "symbolStrokeWidth": 1, "labelFontSize": 20, "labelFont": "Liberation Sans", "labelColor": "black", "labelOffset": 25, "rowPadding": 6, "padding": 0,
                "labelExpr": "datum.value === 'SP' ? 'SP result' : datum.value === 'Our' ? 'Our model' : datum.value === 'DG' ? 'DG model' : datum.value === 'MLDA' ? 'MLDA Model' : datum.value === 'Hansch' ? 'Hansch model' : 'EP model'",
                "encode": {"symbols": {"update": {
                  "shape": {"signal": "datum.value === 'Our' ? 'M-2.5,0H2.5M-0.38,-0.28L0.38,-0.28L0,0.38Z' : datum.value === 'DG' ? 'M-2.5,0H-0.3M0.3,0H2.5M-0.3,-0.3H0.3V0.3H-0.3Z' : datum.value === 'MLDA' ? 'M-2.5,0H-0.4M0.4,0H2.5M0,-0.4L0.4,0L0,0.4L-0.4,0Z' : datum.value === 'Hansch' ? 'M-2.5,0H2.5M-0.38,0.28L0.38,0.28L0,-0.38Z' : 'M-2.5,0H-0.33M0.33,0H2.5M0.33,0A0.33,0.33,0,1,1,-0.33,0A0.33,0.33,0,1,1,0.33,0'"},
                  "fill": {"signal": "datum.value === 'Our' ? '#ff0000' : datum.value === 'Hansch' ? '#0000ff' : 'white'"}
                }}}
              }}}},
            {"transform": [{"filter": "datum.k === 'SP'"}], "mark": {"type": "point", "shape": "circle", "filled": false, "color": "#000000", "size": 30, "strokeWidth": 1, "opacity": 1}},
            {"transform": [{"filter": "datum.k === 'Our'"}], "mark": {"type": "point", "shape": "triangle-down", "filled": true, "color": "#ff0000", "size": 24, "opacity": 1}},
            {"transform": [{"filter": "datum.k === 'DG'"}], "mark": {"type": "point", "shape": "square", "filled": false, "color": "#00ff00", "size": 30, "strokeWidth": 1, "opacity": 1}},
            {"transform": [{"filter": "datum.k === 'MLDA'"}], "mark": {"type": "point", "shape": "diamond", "filled": false, "color": "#ffff00", "size": 30, "strokeWidth": 1, "opacity": 1}},
            {"transform": [{"filter": "datum.k === 'Hansch'"}], "mark": {"type": "point", "shape": "triangle-up", "filled": false, "color": "#0000ff", "size": 30, "strokeWidth": 1, "opacity": 1}},
            {"transform": [{"filter": "datum.k === 'EP'"}], "mark": {"type": "point", "shape": "circle", "filled": false, "color": "#ff00ff", "size": 30, "strokeWidth": 1, "opacity": 1}}
          ]
        },
        {
          "data": {"values": [{"t": "V", "x": 1.046, "y": 1.16}, {"t": "= V", "x": 1.577, "y": 1.16}, {"t": "= V", "x": 2.343, "y": 1.16}, {"t": "= 1 V", "x": 3.011, "y": 1.16}]},
          "mark": {"type": "text", "align": "left", "baseline": "alphabetic", "fontSize": 24, "font": "Liberation Sans", "color": "black"},
          "encoding": {"x": {"field": "x", "type": "quantitative"}, "y": {"field": "y", "type": "quantitative"}, "text": {"field": "t"}}
        },
        {
          "data": {"values": [{"t": "G1", "x": 1.238, "y": 0.86}, {"t": "G2", "x": 2.017, "y": 0.86}, {"t": "G", "x": 2.783, "y": 0.86}]},
          "mark": {"type": "text", "align": "left", "baseline": "alphabetic", "fontSize": 16, "font": "Liberation Sans", "color": "black"},
          "encoding": {"x": {"field": "x", "type": "quantitative"}, "y": {"field": "y", "type": "quantitative"}, "text": {"field": "t"}}
        },
        {
          "data": {"values": [{"t": "(b)", "x": 4.776, "y": 11.56}]},
          "mark": {"type": "text", "align": "center", "baseline": "middle", "fontSize": 19, "font": "Liberation Serif", "color": "black"},
          "encoding": {"x": {"field": "x", "type": "quantitative"}, "y": {"field": "y", "type": "quantitative"}, "text": {"field": "t"}}
        }
      ]
    },
    {
      "width": 424, "height": 323,
      "layer": [
        {
          "data": {"name": "c"},
          "transform": [{"fold": ["SP","Our","DG","MLDA","Hansch","EP"], "as": ["k","v"]}],
          "encoding": {
            "x": {"field": "x", "type": "quantitative", "scale": {"domain": [0,5], "nice": false}, "axis": {"title": "Distance (nm)", "values": [0,1,2,3,4,5], "format": "d", "titlePadding": 8}},
            "y": {"field": "v", "type": "quantitative", "scale": {"domain": [0,20], "nice": false}, "axis": {"title": "Electron density (x10¹⁹cm⁻³)", "values": [0,5,10,15,20], "format": "d", "titlePadding": 10}}
          },
          "layer": [
            {"mark": {"type": "line", "strokeWidth": 1},
             "encoding": {"stroke": {"field": "k", "type": "nominal",
              "scale": {"domain": ["SP","Our","DG","MLDA","Hansch","EP"], "range": ["#000000","#ff0000","#00ff00","#ffff00","#0000ff","#ff00ff"]},
              "legend": {"title": null, "orient": "none", "direction": "vertical", "legendX": 149, "legendY": 49, "symbolSize": 324, "symbolStrokeWidth": 1, "labelFontSize": 20, "labelFont": "Liberation Sans", "labelColor": "black", "labelOffset": 23, "rowPadding": 6, "padding": 0,
                "labelExpr": "datum.value === 'SP' ? 'SP result' : datum.value === 'Our' ? 'Our model' : datum.value === 'DG' ? 'DG model' : datum.value === 'MLDA' ? 'MLDA model' : datum.value === 'Hansch' ? 'Hansch model' : 'EP model'",
                "encode": {"symbols": {"update": {
                  "shape": {"signal": "datum.value === 'Our' ? 'M-2.5,0H2.5M-0.38,-0.28L0.38,-0.28L0,0.38Z' : datum.value === 'DG' ? 'M-2.5,0H-0.3M0.3,0H2.5M-0.3,-0.3H0.3V0.3H-0.3Z' : datum.value === 'MLDA' ? 'M-2.5,0H-0.4M0.4,0H2.5M0,-0.4L0.4,0L0,0.4L-0.4,0Z' : datum.value === 'Hansch' ? 'M-2.5,0H2.5M-0.38,0.28L0.38,0.28L0,-0.38Z' : 'M-2.5,0H-0.33M0.33,0H2.5M0.33,0A0.33,0.33,0,1,1,-0.33,0A0.33,0.33,0,1,1,0.33,0'"},
                  "fill": {"signal": "datum.value === 'Our' ? '#ff0000' : datum.value === 'Hansch' ? '#0000ff' : 'white'"}
                }}}
              }}}},
            {"transform": [{"filter": "datum.k === 'SP'"}], "mark": {"type": "point", "shape": "circle", "filled": false, "color": "#000000", "size": 30, "strokeWidth": 1, "opacity": 1}},
            {"transform": [{"filter": "datum.k === 'Our'"}], "mark": {"type": "point", "shape": "triangle-down", "filled": true, "color": "#ff0000", "size": 24, "opacity": 1}},
            {"transform": [{"filter": "datum.k === 'DG'"}], "mark": {"type": "point", "shape": "square", "filled": false, "color": "#00ff00", "size": 30, "strokeWidth": 1, "opacity": 1}},
            {"transform": [{"filter": "datum.k === 'MLDA'"}], "mark": {"type": "point", "shape": "diamond", "filled": false, "color": "#ffff00", "size": 30, "strokeWidth": 1, "opacity": 1}},
            {"transform": [{"filter": "datum.k === 'Hansch'"}], "mark": {"type": "point", "shape": "triangle-up", "filled": false, "color": "#0000ff", "size": 30, "strokeWidth": 1, "opacity": 1}},
            {"transform": [{"filter": "datum.k === 'EP'"}], "mark": {"type": "point", "shape": "circle", "filled": false, "color": "#ff00ff", "size": 30, "strokeWidth": 1, "opacity": 1}}
          ]
        },
        {
          "data": {"values": [{"t": "V", "x": 0.275, "y": 18.45}, {"t": "= V", "x": 0.728, "y": 18.45}, {"t": "= 1 V", "x": 1.317, "y": 18.45}, {"t": "and", "x": 1.958, "y": 18.45}, {"t": "V", "x": 2.418, "y": 18.45}, {"t": "= 1.5 V", "x": 2.877, "y": 18.45}]},
          "mark": {"type": "text", "align": "left", "baseline": "alphabetic", "fontSize": 21, "font": "Liberation Sans", "color": "black"},
          "encoding": {"x": {"field": "x", "type": "quantitative"}, "y": {"field": "y", "type": "quantitative"}, "text": {"field": "t"}}
        },
        {
          "data": {"values": [{"t": "G2", "x": 0.452, "y": 18.02}, {"t": "G", "x": 1.144, "y": 18.02}, {"t": "G1", "x": 2.594, "y": 18.02}]},
          "mark": {"type": "text", "align": "left", "baseline": "alphabetic", "fontSize": 15, "font": "Liberation Sans", "color": "black"},
          "encoding": {"x": {"field": "x", "type": "quantitative"}, "y": {"field": "y", "type": "quantitative"}, "text": {"field": "t"}}
        },
        {
          "data": {"values": [{"t": "(c)", "x": 4.776, "y": 19.26}]},
          "mark": {"type": "text", "align": "center", "baseline": "middle", "fontSize": 19, "font": "Liberation Serif", "color": "black"},
          "encoding": {"x": {"field": "x", "type": "quantitative"}, "y": {"field": "y", "type": "quantitative"}, "text": {"field": "t"}}
        }
      ]
    }
  ]
}
]
}
